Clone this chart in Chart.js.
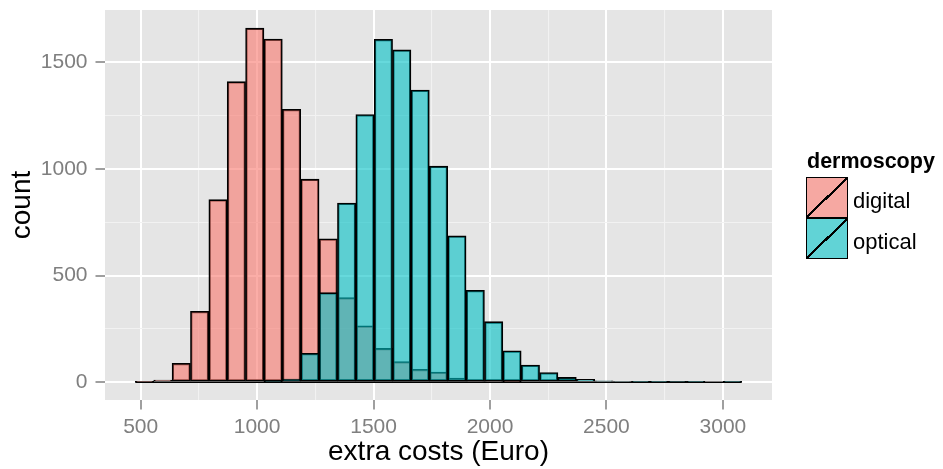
<!DOCTYPE html>
<html>
<head>
<meta charset="utf-8">
<script src="https://cdn.jsdelivr.net/npm/chart.js@4.4.0/dist/chart.umd.min.js"></script>
<style>
body{margin:0;background:#fff;font-family:"Liberation Sans",Arial,sans-serif;}
#wrap{position:relative;width:943px;height:469px;}
.legend-title{position:absolute;left:807px;top:151px;font-size:21.5px;line-height:21.5px;font-weight:bold;color:#000;}
.key{position:absolute;left:806px;width:42px;height:41px;box-sizing:border-box;border:1.5px solid #000;
background-image:linear-gradient(to bottom right,transparent calc(50% - 1.1px),#000 calc(50% - 1.1px),#000 calc(50% + 1.1px),transparent calc(50% + 1.1px));}
.lab{position:absolute;left:853px;font-size:22px;line-height:22px;color:#000;}
</style>
</head>
<body>
<div id="wrap">
<canvas id="chart" width="943" height="469"></canvas>
<div class="legend-title">dermoscopy</div>
<div id="legend"></div>
</div>
<script>
// bin centres (Euro) and counts per bin
const binCenters=[516.5,595.4,674.3,753.2,832.1,911.0,989.9,1068.8,1147.7,1226.6,1305.5,1384.4,1463.3,1542.2,1621.1,1700.0,1778.9,1857.8,1936.7,2015.6,2094.5,2173.4,2252.3,2331.2,2410.1,2489.0,2567.9,2646.8,2725.7,2804.6,2883.5,2962.4,3041.3];
const digital=[1,10,89,333,856,1409,1660,1609,1280,952,673,397,265,159,97,61,48,20,9,6,2,0,0,0,0,0,0,0,0,0,0,0,0];
const optical=[0,0,0,0,0,0,0,3,15,136,420,840,1255,1608,1558,1370,1013,686,431,284,148,81,46,23,14,7,5,1,1,3,1,0,1];

const xTicks=[500,750,1000,1250,1500,1750,2000,2250,2500,2750,3000];
const yTicks=[0,250,500,750,1000,1250,1500];
const seriesNames=["digital","optical"];
const fills=["rgba(248,118,109,0.6)","rgba(0,191,196,0.6)"];
const keyFills=["rgb(246,168,162)","rgb(97,211,214)"];

const font='"Liberation Sans", Arial, sans-serif';
const isMajor=v=>v%500===0;
const major=c=>c.tick&&isMajor(c.tick.value);

const panelBg={
id:"panelBg",
beforeDraw(chart){
const {ctx,chartArea:a}=chart;
ctx.save();
ctx.fillStyle="#e5e5e5";
ctx.fillRect(a.left,a.top,a.right-a.left,a.bottom-a.top);
ctx.restore();
}
};

// outline of the empty bins along zero
const zeroLine={
id:"zeroLine",
afterDatasetsDraw(chart){
const {ctx,scales:{x,y}}=chart;
const half=(binCenters[1]-binCenters[0])/2;
const y0=y.getPixelForValue(0);
ctx.save();
ctx.strokeStyle="#000";
ctx.lineWidth=1.6;
ctx.beginPath();
ctx.moveTo(x.getPixelForValue(binCenters[0]-half),y0);
ctx.lineTo(x.getPixelForValue(binCenters[binCenters.length-1]+half),y0);
ctx.stroke();
ctx.restore();
}
};

function gridOpts(){
return {
offset:false,
color:c=>major(c)?"#ffffff":"#f2f2f2",
lineWidth:c=>major(c)?2:1.1,
tickColor:c=>major(c)?"#7f7f7f":"rgba(0,0,0,0)",
tickLength:9.5,
tickWidth:1.5
};
}

new Chart(document.getElementById("chart"),{
type:"bar",
data:{
datasets:[
{label:seriesNames[0],data:binCenters.map((x,i)=>({x:x,y:digital[i]})),backgroundColor:fills[0],order:2},
{label:seriesNames[1],data:binCenters.map((x,i)=>({x:x,y:optical[i]})),backgroundColor:fills[1],order:1}
]
},
options:{
responsive:false,
animation:false,
layout:{padding:{left:0,right:171,top:10,bottom:0}},
datasets:{bar:{grouped:false,barPercentage:1,categoryPercentage:1,borderColor:"#000",borderWidth:1.6,borderSkipped:false}},
plugins:{legend:{display:false},tooltip:{enabled:false}},
scales:{
x:{
type:"linear",min:346.8,max:3210.9,offset:false,
afterBuildTicks:s=>{s.ticks=xTicks.map(v=>({value:v}));},
afterFit:s=>{s.height=69;s.paddingLeft=0;s.paddingRight=0;},
grid:gridOpts(),
border:{display:false},
ticks:{autoSkip:false,maxRotation:0,padding:5,color:"#7f7f7f",font:{family:font,size:21},callback:v=>isMajor(v)?String(v):""},
title:{display:true,text:"extra costs (Euro)",color:"#000",font:{family:font,size:28},padding:{top:0,bottom:0}}
},
y:{
type:"linear",min:-83,max:1745,
afterBuildTicks:s=>{s.ticks=yTicks.map(v=>({value:v}));},
afterFit:s=>{s.width=105;s.paddingTop=0;s.paddingBottom=0;},
grid:gridOpts(),
border:{display:false},
ticks:{autoSkip:false,padding:8,color:"#7f7f7f",font:{family:font,size:21},callback:v=>isMajor(v)?String(v):""},
title:{display:true,text:"count",color:"#000",font:{family:font,size:28},padding:{top:5,bottom:0}}
}
}
},
plugins:[panelBg,zeroLine]
});

const legend=document.getElementById("legend");
seriesNames.forEach((name,i)=>{
const key=document.createElement("div");
key.className="key";
key.style.top=(177+i*41)+"px";
key.style.backgroundColor=keyFills[i];
legend.appendChild(key);
const lab=document.createElement("div");
lab.className="lab";
lab.style.top=(189.5+i*41.5)+"px";
lab.textContent=name;
legend.appendChild(lab);
});
</script>
</body>
</html>
